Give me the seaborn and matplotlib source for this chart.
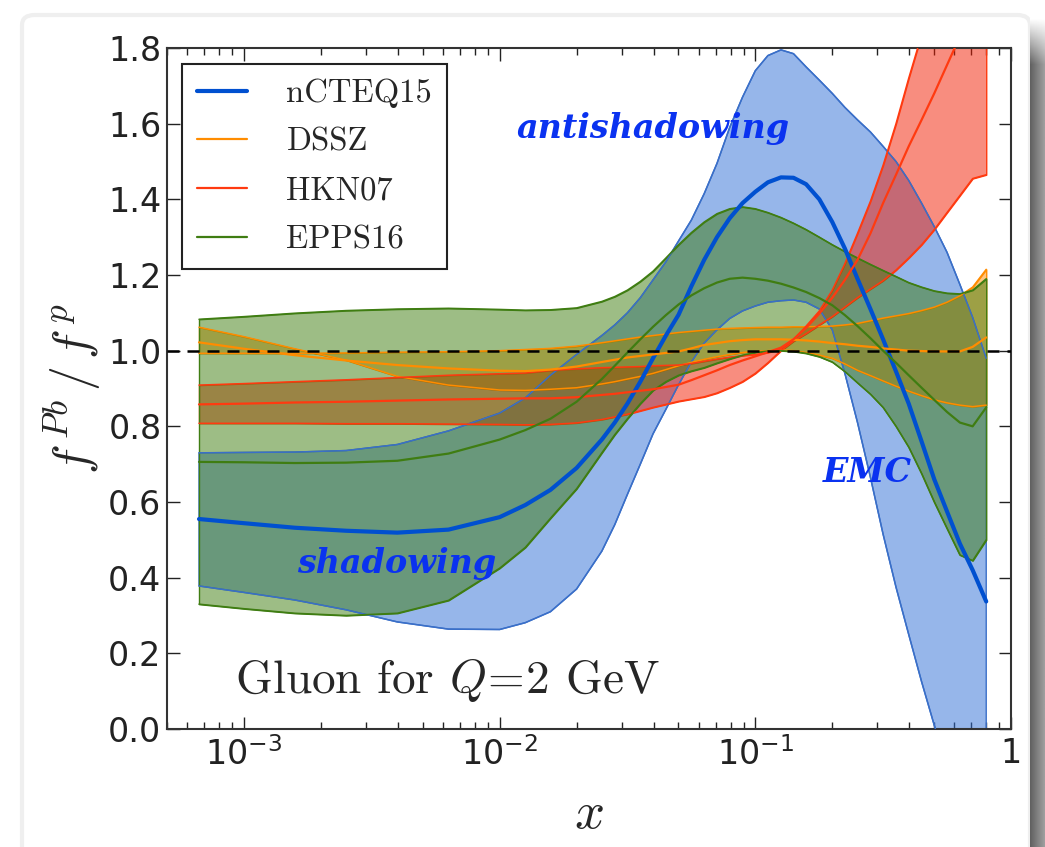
import numpy as np
import pandas as pd
import matplotlib
matplotlib.use("Agg")
import matplotlib.pyplot as plt
import seaborn as sns
from matplotlib.colors import to_rgba
from matplotlib.patches import FancyBboxPatch
from matplotlib.ticker import FixedLocator, FixedFormatter, LogLocator, NullFormatter

# ---------------- data ----------------
x_vals = [6.67e-4, 1.0e-3, 1.58e-3, 2.51e-3, 3.98e-3, 6.31e-3, 1.0e-2, 1.26e-2, 1.58e-2, 2.0e-2,
          2.51e-2, 2.82e-2, 3.16e-2, 3.55e-2, 3.98e-2, 4.47e-2, 5.01e-2, 5.62e-2, 6.31e-2, 7.08e-2,
          7.94e-2, 8.91e-2, 0.1, 0.112, 0.126, 0.141, 0.158, 0.178, 0.2, 0.224,
          0.251, 0.282, 0.316, 0.355, 0.398, 0.447, 0.501, 0.562, 0.631, 0.708, 0.8]

ncteq_c = [0.555, 0.544, 0.532, 0.524, 0.519, 0.527, 0.560, 0.592, 0.632, 0.690,
           0.765, 0.810, 0.860, 0.918, 0.980, 1.040, 1.095, 1.170, 1.240, 1.300,
           1.350, 1.390, 1.420, 1.445, 1.458, 1.457, 1.440, 1.400, 1.340, 1.270,
           1.190, 1.110, 1.030, 0.945, 0.860, 0.760, 0.660, 0.575, 0.490, 0.420, 0.337]
ncteq_hi = [0.730, 0.731, 0.732, 0.736, 0.752, 0.788, 0.835, 0.875, 0.935, 0.990,
            1.040, 1.068, 1.100, 1.140, 1.187, 1.235, 1.290, 1.345, 1.415, 1.495,
            1.590, 1.670, 1.740, 1.780, 1.795, 1.785, 1.750, 1.715, 1.680, 1.643,
            1.610, 1.578, 1.540, 1.500, 1.450, 1.390, 1.328, 1.260, 1.175, 1.088, 0.980]
ncteq_lo = [0.378, 0.361, 0.341, 0.315, 0.283, 0.264, 0.263, 0.281, 0.310, 0.370,
            0.470, 0.540, 0.620, 0.700, 0.780, 0.845, 0.910, 0.970, 1.020, 1.055,
            1.085, 1.105, 1.118, 1.128, 1.132, 1.134, 1.128, 1.110, 1.055, 0.940,
            0.810, 0.665, 0.515, 0.375, 0.250, 0.125, 0.010, -0.100, -0.220, -0.340, -0.450]

dssz_c = [1.022, 1.005, 0.988, 0.974, 0.962, 0.953, 0.947, 0.946, 0.950, 0.958,
          0.970, 0.976, 0.982, 0.986, 0.990, 0.994, 0.998, 1.006, 1.015, 1.020,
          1.025, 1.028, 1.030, 1.030, 1.030, 1.029, 1.027, 1.024, 1.020, 1.017,
          1.013, 1.010, 1.006, 1.003, 1.000, 0.999, 0.998, 0.998, 0.998, 1.010, 1.035]
dssz_a = [1.062, 1.037, 1.005, 0.975, 0.932, 0.909, 0.896, 0.895, 0.898, 0.902,
          0.912, 0.918, 0.925, 0.932, 0.940, 0.950, 0.960, 0.969, 0.977, 0.984,
          0.990, 0.995, 0.998, 1.000, 1.002, 1.000, 0.995, 0.988, 0.980, 0.965,
          0.948, 0.934, 0.920, 0.906, 0.893, 0.881, 0.870, 0.862, 0.856, 0.852, 0.856]
dssz_b = [0.993, 0.993, 0.993, 0.994, 0.996, 0.997, 1.000, 1.003, 1.006, 1.012,
          1.021, 1.026, 1.031, 1.036, 1.040, 1.044, 1.048, 1.051, 1.054, 1.057,
          1.059, 1.060, 1.061, 1.062, 1.062, 1.063, 1.063, 1.064, 1.065, 1.068,
          1.072, 1.079, 1.086, 1.092, 1.098, 1.106, 1.115, 1.128, 1.145, 1.168, 1.215]

hkn_c = [0.858, 0.860, 0.863, 0.865, 0.868, 0.871, 0.873, 0.874, 0.874, 0.877,
         0.883, 0.886, 0.890, 0.894, 0.898, 0.904, 0.910, 0.922, 0.935, 0.948,
         0.962, 0.974, 0.985, 0.996, 1.008, 1.030, 1.060, 1.098, 1.140, 1.187,
         1.240, 1.310, 1.390, 1.465, 1.540, 1.610, 1.680, 1.755, 1.830, 1.900, 1.980]
hkn_hi = [0.909, 0.913, 0.918, 0.923, 0.929, 0.935, 0.939, 0.941, 0.948, 0.952,
          0.955, 0.956, 0.957, 0.958, 0.960, 0.961, 0.962, 0.966, 0.972, 0.978,
          0.983, 0.987, 0.990, 0.995, 1.005, 1.030, 1.065, 1.105, 1.160, 1.230,
          1.310, 1.395, 1.490, 1.600, 1.720, 1.835, 1.950, 2.050, 2.150, 2.250, 2.350]
hkn_lo = [0.808, 0.808, 0.808, 0.807, 0.807, 0.806, 0.805, 0.804, 0.805, 0.809,
          0.818, 0.825, 0.832, 0.841, 0.850, 0.858, 0.866, 0.872, 0.878, 0.888,
          0.902, 0.918, 0.940, 0.968, 1.000, 1.025, 1.045, 1.068, 1.090, 1.115,
          1.140, 1.163, 1.185, 1.213, 1.245, 1.280, 1.320, 1.365, 1.410, 1.455, 1.465]

epps_c = [0.706, 0.705, 0.703, 0.704, 0.709, 0.728, 0.765, 0.790, 0.820, 0.865,
          0.925, 0.960, 0.995, 1.030, 1.063, 1.094, 1.122, 1.146, 1.165, 1.180,
          1.190, 1.193, 1.190, 1.185, 1.177, 1.167, 1.155, 1.139, 1.120, 1.094,
          1.065, 1.033, 1.000, 0.968, 0.935, 0.902, 0.870, 0.838, 0.810, 0.800, 0.850]
epps_hi = [1.083, 1.090, 1.099, 1.106, 1.110, 1.112, 1.109, 1.107, 1.108, 1.113,
           1.130, 1.143, 1.160, 1.183, 1.210, 1.245, 1.280, 1.312, 1.340, 1.362,
           1.375, 1.380, 1.375, 1.365, 1.352, 1.337, 1.320, 1.300, 1.280, 1.262,
           1.245, 1.228, 1.212, 1.196, 1.180, 1.168, 1.158, 1.152, 1.150, 1.160, 1.190]
epps_lo = [0.330, 0.318, 0.306, 0.300, 0.306, 0.340, 0.425, 0.480, 0.557, 0.635,
           0.730, 0.778, 0.820, 0.860, 0.895, 0.918, 0.935, 0.946, 0.955, 0.967,
           0.978, 0.988, 0.995, 0.999, 1.000, 0.998, 0.993, 0.984, 0.970, 0.945,
           0.915, 0.885, 0.850, 0.800, 0.745, 0.675, 0.600, 0.530, 0.460, 0.445, 0.500]

series_names = ["nCTEQ15", "DSSZ", "HKN07", "EPPS16"]
x_ticks = [1e-3, 1e-2, 1e-1, 1.0]
x_ticklabels = [r"$\mathregular{10^{-3}}$", r"$\mathregular{10^{-2}}$", r"$\mathregular{10^{-1}}$", "1"]
y_ticks = [0.0, 0.2, 0.4, 0.6, 0.8, 1.0, 1.2, 1.4, 1.6, 1.8]

# ---------------- style ----------------
sns.set_style("ticks")
plt.rcParams["font.family"] = ["DejaVu Sans"]
plt.rcParams["mathtext.fontset"] = "dejavusans"

W, H = 1045, 847
fig = plt.figure(figsize=(W / 100, H / 100), dpi=100)
fig.patch.set_facecolor("white")

# card frame + drop shadow
card = FancyBboxPatch((22 / W, -0.05), (1030 - 22) / W, 1.05 - 15 / H,
                      boxstyle="round,pad=0,rounding_size=0.012",
                      transform=fig.transFigure, facecolor="white",
                      edgecolor="#efefef", linewidth=3, zorder=-5)
fig.patches.append(card)
sh_ax = fig.add_axes([1030 / W, 0, 15 / W, (H - 18) / H], zorder=-1)
cols = np.linspace(0.38, 0.62, 15)
rows = np.zeros(200)
rows[:12] = np.linspace(1.0, 0.0, 12)
grad = cols[None, :] * (1 - rows[:, None]) + rows[:, None] * 1.0
sh_ax.imshow(grad, cmap="gray", vmin=0, vmax=1, aspect="auto", interpolation="bilinear")
sh_ax.axis("off")

ax = fig.add_axes([167 / W, 1 - 729 / H, (1011 - 167) / W, (729 - 48) / H], zorder=2)
ax.set_facecolor("white")

c_blue_fill, c_blue_edge, c_blue_line = "#2f6fd6", "#3a6fc8", "#0050d0"
c_or_fill, c_or_line = "#ff8c00", "#ff8c00"
c_red_fill, c_red_line = "#f31d01", "#ff3a10"
c_gr_fill, c_gr_line = "#3d7c0d", "#3f7d12"

bands = [
    (ncteq_lo, ncteq_hi, c_blue_fill, c_blue_edge),
    (dssz_a, dssz_b, c_or_fill, c_or_line),
    (hkn_lo, hkn_hi, c_red_fill, c_red_line),
    (epps_lo, epps_hi, c_gr_fill, c_gr_line),
]
for lo, hi, fc, ec in bands:
    ax.fill_between(x_vals, lo, hi, facecolor=to_rgba(fc, 0.5), edgecolor=ec, linewidth=1.0, zorder=2)

for lo, hi, fc, ec in bands:
    ax.plot(x_vals, lo, color=ec, lw=1.1, zorder=3)
    ax.plot(x_vals, hi, color=ec, lw=1.1, zorder=3)

centrals = [(ncteq_c, c_blue_line, 3.0), (dssz_c, c_or_line, 1.6),
            (hkn_c, c_red_line, 1.6), (epps_c, c_gr_line, 1.6)]
for name, (yv, col, lw) in zip(series_names, centrals):
    sns.lineplot(x=x_vals, y=yv, ax=ax, color=col, lw=lw, label=name,
                 estimator=None, sort=False, zorder=4)

ax.axhline(1.0, color="black", lw=1.8, ls=(0, (4.8, 3.2)), zorder=5)

ax.set_xscale("log")
ax.set_xlim(5e-4, 1.0)
ax.set_ylim(0.0, 1.8)
ax.xaxis.set_major_locator(FixedLocator(x_ticks))
ax.xaxis.set_major_formatter(FixedFormatter(x_ticklabels))
ax.xaxis.set_minor_locator(LogLocator(base=10, subs=np.arange(2, 10), numticks=20))
ax.xaxis.set_minor_formatter(NullFormatter())
ax.yaxis.set_major_locator(FixedLocator(y_ticks))
ax.set_yticklabels([f"{v:.1f}" for v in y_ticks])
ax.tick_params(which="both", direction="in", top=True, right=True, colors="#222222",
               labelsize=24, width=1.0)
ax.tick_params(which="major", length=9, pad=6)
ax.tick_params(which="minor", length=5)
ax.tick_params(axis="y", pad=4)
for sp in ax.spines.values():
    sp.set_color("#333333")
    sp.set_linewidth(1.5)

ax.set_xlabel(r"$x$", fontsize=38, math_fontfamily="cm", labelpad=11)
ax.set_ylabel(r"$f^{\,Pb}\,/\,f^{\,p}$", fontsize=36, math_fontfamily="cm", labelpad=4)

ann = "#0a32f0"
ann_kw = dict(color=ann, fontsize=24, family="DejaVu Serif", fontweight="bold",
              fontstyle="italic", va="baseline", ha="left", zorder=6)
ax.text(0.0116, 1.562, "antishadowing", **ann_kw)
ax.text(1.61e-3, 0.412, "shadowing", **ann_kw)
ax.text(0.1836, 0.653, "EMC", **ann_kw)
ax.text(9.2e-4, 0.095, r"Gluon for $Q\!=\!2$ GeV", fontsize=34, family="cmr10",
        math_fontfamily="cm", va="baseline", ha="left", zorder=6)

leg = ax.legend(loc="upper left", bbox_to_anchor=((182 - 167) / 844, 1 - (64 - 48) / 681),
                borderaxespad=0, prop={"family": "cmr10", "size": 23.5}, frameon=True,
                fancybox=False, framealpha=1, edgecolor="#222222",
                handlelength=1.55, handletextpad=1.2, borderpad=0.45, labelspacing=0.6)
leg.get_frame().set_linewidth(1.5)
leg.set_zorder(10)

fig.savefig("out.png", dpi=100, facecolor="white")
